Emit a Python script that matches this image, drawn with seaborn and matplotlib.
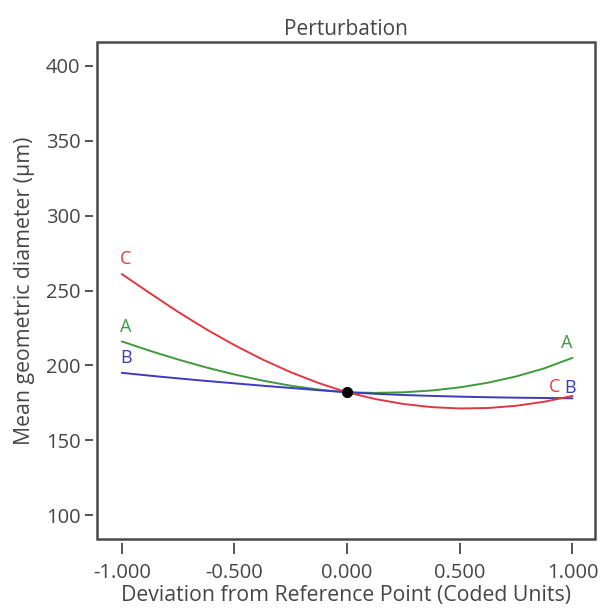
import matplotlib
matplotlib.use("Agg")
import matplotlib.pyplot as plt
import seaborn as sns
import pandas as pd
from matplotlib.patches import Rectangle

# Deviation from the reference point (coded units)
deviation = [-1.0, -0.875, -0.75, -0.625, -0.5, -0.375, -0.25, -0.125, 0.0,
             0.125, 0.25, 0.375, 0.5, 0.625, 0.75, 0.875, 1.0]

# Mean geometric diameter (µm) along each factor's perturbation trace
trace_a = [216, 209.7, 203.9, 198.6, 193.9, 189.8, 186.4, 183.8, 182,
           181.6, 182, 183.2, 185.3, 188.4, 192.6, 198, 205]
trace_b = [195, 193.1, 191.3, 189.6, 188, 186.4, 184.9, 183.4, 182,
           181, 180.2, 179.6, 179.1, 178.7, 178.4, 178.2, 178]
trace_c = [261, 248.2, 235.7, 224.1, 213.5, 203.9, 195.4, 188.1, 182,
           177.5, 174.2, 172.1, 171.2, 171.5, 173, 175.7, 179.6]

factors = ["A", "B", "C"]
reference_value = 182

x_ticks = [-1.0, -0.5, 0.0, 0.5, 1.0]
x_tick_labels = ["-1.000", "-0.500", "0.000", "0.500", "1.000"]
y_ticks = [100, 150, 200, 250, 300, 350, 400]

colors = {"A": "#3f9a3c", "B": "#3b3bbf", "C": "#e0383f"}

df = pd.DataFrame({
    "deviation": deviation * 3,
    "diameter": trace_a + trace_b + trace_c,
    "factor": ["A"] * len(deviation) + ["B"] * len(deviation) + ["C"] * len(deviation),
})

sns.set_theme(style="white")
plt.rcParams["font.family"] = ["Open Sans", "DejaVu Sans"]
plt.rcParams["axes.unicode_minus"] = False

fig = plt.figure(figsize=(6.02, 6.16), dpi=100)
ax = fig.add_axes([0.1611, 0.125, 0.8272, 0.8068])

sns.lineplot(data=df, x="deviation", y="diameter", hue="factor",
             palette=colors, linewidth=1.4, legend=False, ax=ax, sort=True)

sns.scatterplot(x=[0.0], y=[reference_value], color="black", s=55,
                edgecolor="black", zorder=5, ax=ax, legend=False)

# Trace labels at both ends of each curve
series = {"A": trace_a, "B": trace_b, "C": trace_c}
label_size = 13
for name in factors:
    ax.annotate(name, (deviation[0], series[name][0]), xytext=(3, 4),
                textcoords="offset points", ha="center", va="bottom",
                color=colors[name], fontsize=label_size)
ax.annotate("A", (deviation[-1], trace_a[-1]), xytext=(-4, 4),
            textcoords="offset points", ha="center", va="bottom",
            color=colors["A"], fontsize=label_size)
ax.annotate("C", (deviation[-1], trace_c[-1]), xytext=(-13, 0),
            textcoords="offset points", ha="center", va="bottom",
            color=colors["C"], fontsize=label_size)
ax.annotate("B", (deviation[-1], trace_b[-1]), xytext=(-2, 1),
            textcoords="offset points", ha="center", va="bottom",
            color=colors["B"], fontsize=label_size)

ax.set_xlim(-1.11, 1.10)
ax.set_ylim(84, 416)
ax.set_xticks(x_ticks)
ax.set_xticklabels(x_tick_labels)
ax.set_yticks(y_ticks)

text_color = "#454545"
frame_color = "#4a4a4a"

# Tick axes sit slightly outside the plot frame
for side in ["left", "bottom"]:
    ax.spines[side].set_position(("outward", 3))
    ax.spines[side].set_edgecolor("none")
for side in ["right", "top"]:
    ax.spines[side].set_visible(False)
ax.add_patch(Rectangle((0, 0), 1, 1, transform=ax.transAxes, fill=False,
                       edgecolor=frame_color, linewidth=1.8, clip_on=False,
                       zorder=6))

ax.tick_params(axis="both", direction="out", width=1.3, color="#444444",
               labelsize=14.5, labelcolor=text_color, bottom=True, left=True)
ax.tick_params(axis="y", length=6, pad=3)
ax.tick_params(axis="x", length=8, pad=6)

ax.set_xlabel("Deviation from Reference Point (Coded Units)",
              fontsize=15.3, color=text_color, labelpad=2)
ax.set_ylabel("Mean geometric diameter (µm)", fontsize=15.3,
              color=text_color, labelpad=8)
ax.set_title("Perturbation", fontsize=15, color=text_color, pad=5)

fig.savefig("out.png", dpi=100)
